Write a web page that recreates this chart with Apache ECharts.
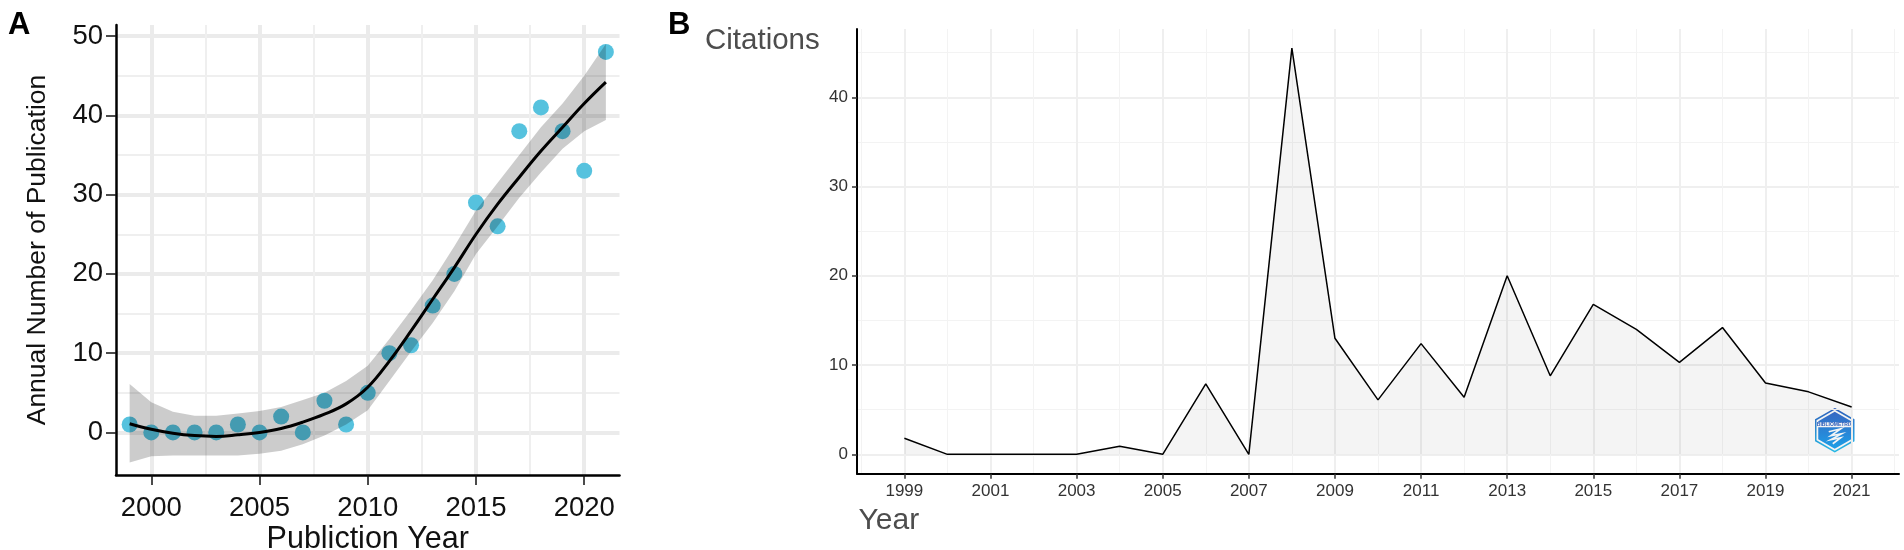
<!DOCTYPE html>
<html>
<head>
<meta charset="utf-8">
<style>html,body{margin:0;padding:0;background:#fff}#chart{width:1904px;height:550px}</style>
<script src="https://cdn.jsdelivr.net/npm/echarts@6/dist/echarts.min.js"></script>
</head>
<body>
<div id="chart"></div>
<script>
const years = [1999,2000,2001,2002,2003,2004,2005,2006,2007,2008,2009,2010,2011,2012,2013,2014,2015,2016,2017,2018,2019,2020,2021]
// panel A
const publications = [1,0,0,0,0,1,0,2,0,4,1,5,10,11,16,20,29,26,38,41,38,33,48]
const smooth = [1.1,0.4,-0.1,-0.4,-0.5,-0.3,0,0.5,1.3,2.3,3.6,5.7,9.0,12.8,16.8,20.8,25,28.8,32.2,35.5,38.5,41.5,44.2]
const upper = [6.1,3.8,2.6,2.1,2.1,2.4,2.7,3.2,4.1,5,6.5,8.4,11.8,15.4,19.2,23.5,28,31.5,35,38.5,41.5,45,49]
const lower = [-3.8,-3,-2.9,-2.9,-2.9,-2.9,-2.7,-2.3,-1.5,-0.4,1,2.8,6.5,10.2,13.8,17.8,22.5,26,29.6,32.8,35.8,38,39.4]
const xTicksA = [2000,2005,2010,2015,2020]
const xMinorA = [2002.5,2007.5,2012.5,2017.5]
const yTicksA = [0,10,20,30,40,50]
const yMinorA = [5,15,25,35,45]
// panel B
const citations = [1.8,0,0,0,0,0.9,0,7.9,0,45.5,13,6.1,12.4,6.4,20,8.8,16.8,14,10.3,14.2,8,7,5.3]
const xTicksB = [1999,2001,2003,2005,2007,2009,2011,2013,2015,2017,2019,2021]
const xMinorB = [1998,2000,2002,2004,2006,2008,2010,2012,2014,2016,2018,2020,2022]
const yTicksB = [0,10,20,30,40]
const yMinorB = [5,15,25,35,45]

const font = '"Liberation Sans", Arial, sans-serif'

const mainAxis = (gridIndex, min, max, ticks, line, label, tick, split, extra) => ({
  type: 'value', gridIndex, min, max,
  axisLine: { show: true, onZero: false, lineStyle: line },
  axisTick: { show: true, customValues: ticks, length: tick.length, lineStyle: tick.style },
  axisLabel: {
    customValues: ticks, fontFamily: font, fontSize: label.size, color: label.color, margin: label.margin,
    formatter: v => String(v)
  },
  splitLine: { show: true, lineStyle: split },
  ...extra
})
const minorAxis = (gridIndex, min, max, ticks, split) => ({
  type: 'value', gridIndex, min, max,
  axisLine: { show: false },
  axisTick: { show: false, customValues: ticks },
  axisLabel: { show: false, customValues: ticks },
  splitLine: { show: true, lineStyle: split }
})

const lineA = { color: '#000', width: 2.5 }
const labelAx = { size: 27.5, color: '#111', margin: 19 }
const labelAy = { size: 27.5, color: '#111', margin: 13 }
const tickA = { length: 10, style: { color: '#111', width: 1.5 } }
const majorA = { color: '#ebebeb', width: 4 }
const minorA = { color: '#efefef', width: 2 }
const lineB = { color: '#000', width: 2 }
const labelB = { size: 17, color: '#333', margin: 9 }
const tickB = { length: 5, style: { color: '#333', width: 1.5 } }
const majorB = { color: '#efefef', width: 2 }
const minorB = { color: '#f3f3f3', width: 1 }

const option = {
  animation: false,
  backgroundColor: '#fff',
  textStyle: { fontFamily: font },
  title: [
    { text: 'A', left: 3, top: 5, textStyle: { fontFamily: font, fontSize: 31, fontWeight: 'bold', color: '#000' } },
    { text: 'B', left: 663, top: 5, textStyle: { fontFamily: font, fontSize: 31, fontWeight: 'bold', color: '#000' } },
    { text: 'Citations', left: 700, top: 21, textStyle: { fontFamily: font, fontSize: 29.5, fontWeight: 'normal', color: '#4d4d4d' } },
    { text: 'Year', left: 853.5, top: 501, textStyle: { fontFamily: font, fontSize: 30, fontWeight: 'normal', color: '#4d4d4d' } }
  ],
  grid: [
    { left: 116, top: 25, width: 503.5, height: 450, outerBoundsMode: 'none' },
    { left: 857, top: 29, width: 1042, height: 444.7, outerBoundsMode: 'none' }
  ],
  xAxis: [
    mainAxis(0, 1998.37, 2021.63, xTicksA, lineA, labelAx, tickA, majorA, {
      name: 'Publiction Year', nameLocation: 'middle', nameGap: 49, nameMoveOverlap: false,
      nameTextStyle: { fontFamily: font, fontSize: 30.5, color: '#111' }
    }),
    minorAxis(0, 1998.37, 2021.63, xMinorA, minorA),
    mainAxis(1, 1997.9, 2022.1, xTicksB, lineB, labelB, tickB, majorB, {}),
    minorAxis(1, 1997.9, 2022.1, xMinorB, minorB)
  ],
  yAxis: [
    mainAxis(0, -5.37, 51.4, yTicksA, lineA, labelAy, tickA, majorA, {
      name: 'Annual Number of Publication', nameLocation: 'middle', nameGap: 65, nameRotate: 90, nameMoveOverlap: false,
      nameTextStyle: { fontFamily: font, fontSize: 26.5, color: '#111' }
    }),
    minorAxis(0, -5.37, 51.4, yMinorA, minorA),
    mainAxis(1, -2.17, 47.65, yTicksB, lineB, labelB, tickB, majorB, {}),
    minorAxis(1, -2.17, 47.65, yMinorB, minorB)
  ],
  series: [
    {
      name: 'Publications', type: 'scatter', xAxisIndex: 0, yAxisIndex: 0, z: 3,
      symbolSize: 16,
      itemStyle: { color: '#56c2de', opacity: 1 },
      data: years.map((y, i) => [y, publications[i]])
    },
    {
      name: 'CI', type: 'custom', xAxisIndex: 0, yAxisIndex: 0, z: 4, silent: true,
      data: years.map((y, i) => [y, lower[i], upper[i]]),
      encode: { x: 0, y: [1, 2] },
      renderItem: (params, api) => {
        if (params.dataIndex !== 0) return null
        const top = years.map((y, i) => api.coord([y, upper[i]]))
        const bottom = years.map((y, i) => api.coord([y, lower[i]])).reverse()
        return {
          type: 'polygon',
          shape: { points: top.concat(bottom), smooth: 0 },
          style: { fill: 'rgba(0,0,0,0.2)' }
        }
      }
    },
    {
      name: 'Fit', type: 'line', xAxisIndex: 0, yAxisIndex: 0, z: 5,
      smooth: 0.4, showSymbol: false,
      lineStyle: { color: '#000', width: 3 },
      data: years.map((y, i) => [y, smooth[i]])
    },
    {
      name: 'Citations', type: 'line', xAxisIndex: 2, yAxisIndex: 2, z: 3,
      showSymbol: false,
      lineStyle: { color: '#000', width: 1.5 },
      areaStyle: { color: 'rgba(0,0,0,0.06)' },
      data: years.map((y, i) => [y, citations[i]])
    }
  ],
  graphic: [
    {
      type: 'group', left: 1815, top: 408, z: 20,
      children: [
        {
          type: 'polygon',
          shape: { points: [[20, 0], [39, 11], [39, 32], [20, 43], [1, 32], [1, 11]] },
          style: {
            fill: '#fff', lineWidth: 1.5,
            stroke: { type: 'linear', x: 0, y: 0, x2: 0, y2: 1, colorStops: [{ offset: 0, color: '#2f62c4' }, { offset: 1, color: '#28c3f0' }] }
          }
        },
        {
          type: 'polygon',
          shape: { points: [[20, 3], [36.5, 12.5], [36.5, 30.5], [20, 40], [3.5, 30.5], [3.5, 12.5]] },
          style: {
            fill: { type: 'linear', x: 0, y: 0, x2: 0, y2: 1, colorStops: [{ offset: 0, color: '#3b6ccb' }, { offset: 1, color: '#1ea6f2' }] }
          }
        },
        { type: 'rect', shape: { x: 3, y: 13.5, width: 34, height: 5 }, style: { fill: '#fff' } },
        { type: 'text', x: 20, y: 16, style: { text: 'BIBLIOMETRIX', fontSize: 5, fontWeight: 'bold', fontFamily: font, fill: '#2f62c4', align: 'center', verticalAlign: 'middle' } },
        { type: 'polyline', shape: { points: [[14, 23], [26, 20], [16, 27], [27, 25], [16, 31], [26, 29], [18, 35]] }, style: { stroke: '#fff', lineWidth: 1.6, fill: null } }
      ]
    }
  ]
}

const myChart = echarts.init(document.getElementById('chart'))
option && myChart.setOption(option)
</script>
</body>
</html>
